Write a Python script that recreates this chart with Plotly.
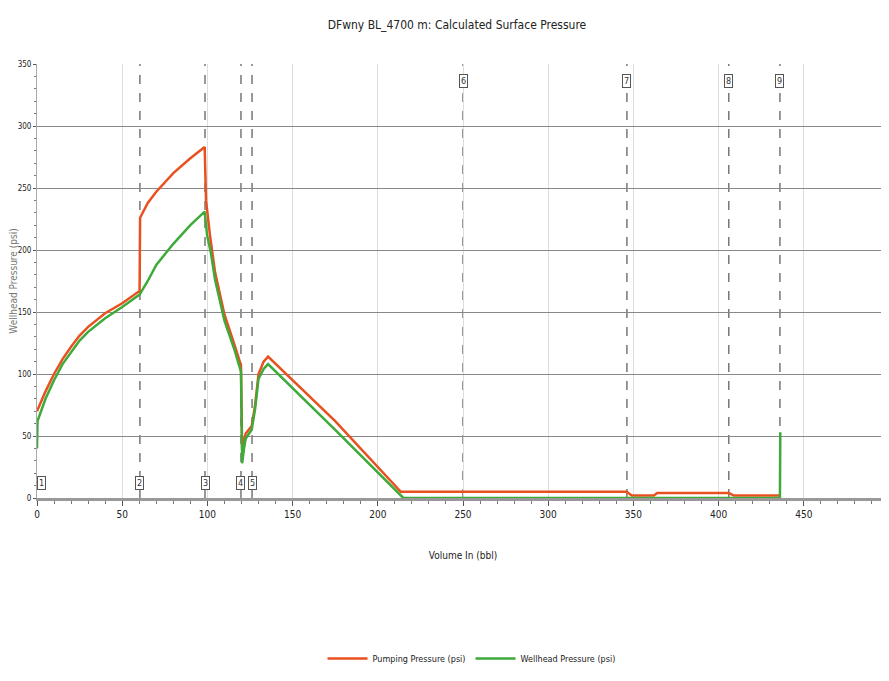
import plotly.graph_objects as go

# ---- data ----
pump_x = [0, 5, 10, 15, 20, 25, 30, 40, 50, 60.2, 60.5, 65, 70, 80, 90, 98.4,
          99.2, 101.5, 104.5, 110, 116, 119.7, 120.4, 121.5, 122.5, 126, 128, 130, 133, 135.6,
          175, 213.5, 346, 349, 362, 364, 406, 409, 436]
pump_y = [70, 86, 100, 112, 122, 131, 138, 149, 157, 167, 226, 238, 247, 262, 274, 283,
          240, 212, 182, 148, 123, 107, 40, 46, 52, 58, 75, 100, 110, 114,
          62, 5, 5, 2, 2, 4, 4, 2, 2]

well_x = [0, 0.3, 5, 10, 15, 20, 25, 30, 40, 50, 60.2, 65, 70, 80, 90, 98.4,
          99.8, 102, 104.5, 110, 116, 119.7, 120.4, 121.5, 122.5, 126, 128, 130, 133, 135.6,
          175, 215, 436, 436.2]
well_y = [40, 62, 80, 95, 108, 118, 127, 134, 145, 154, 164, 175, 188, 205, 220, 231,
          212, 198, 176, 143, 119, 102, 28, 40, 48, 55, 72, 96, 104, 108,
          55, 0, 0, 53]

event_x = [0, 60.4, 98.6, 119.7, 126.2, 250, 346.2, 406, 436]
event_labels = ["1", "2", "3", "4", "5", "6", "7", "8", "9"]
event_pos = ["bottom", "bottom", "bottom", "bottom", "bottom", "top", "top", "top", "top"]

x_ticks = [0, 50, 100, 150, 200, 250, 300, 350, 400, 450, 500]
y_ticks = [0, 50, 100, 150, 200, 250, 300, 350]

title_text = "DFwny BL_4700 m: Calculated Surface Pressure"
x_title = "Volume In (bbl)"
y_title = "Wellhead Pressure (psi)"
series_names = ["Pumping Pressure (psi)", "Wellhead Pressure (psi)"]

FONT = "Liberation Sans Narrow, DejaVu Sans Condensed, Arial Narrow, Liberation Sans, sans-serif"

fig = go.Figure()
fig.add_trace(go.Scatter(x=pump_x, y=pump_y, mode="lines", name=series_names[0],
                         line=dict(color="#E8511F", width=2.5)))
fig.add_trace(go.Scatter(x=well_x, y=well_y, mode="lines", name=series_names[1],
                         line=dict(color="#3DAA3A", width=2.5)))

shapes = []
annotations = []
for ex, lab, pos in zip(event_x, event_labels, event_pos):
    if ex > 0:
        shapes.append(dict(type="line", xref="x", yref="paper", x0=ex, x1=ex, y0=0, y1=1,
                           line=dict(color="#555555", width=1.2, dash="dash"), layer="below"))
    annotations.append(dict(x=ex, y=0.035 if pos == "bottom" else 0.96, xref="x", yref="paper",
                            xshift=4 if ex == 0 else 0,
                            text=lab, showarrow=False, font=dict(size=9, family=FONT, color="#333"),
                            bgcolor="white", bordercolor="#555", borderwidth=1, borderpad=1,
                            xanchor="center", yanchor="middle"))

# the page body has an 8px margin, compensate so the plot lands where the reference has it
fig.update_layout(
    width=889, height=681,
    paper_bgcolor="white", plot_bgcolor="white",
    margin=dict(l=29, r=8, t=56, b=191, autoexpand=False),
    title=dict(text=title_text, x=0.505, xanchor="center", y=0.975, yanchor="middle",
               font=dict(size=12, family=FONT, color="#222")),
    font=dict(family=FONT, size=10, color="#222"),
    showlegend=True,
    legend=dict(orientation="h", x=0.51, xanchor="center", y=-0.37, yanchor="middle",
                font=dict(size=9, family=FONT), itemwidth=40),
    shapes=shapes,
    annotations=annotations,
)
fig.update_xaxes(range=[0, 500], tickvals=x_ticks, ticktext=[str(v) for v in x_ticks],
                 automargin=False,
                 showgrid=True, gridcolor="#DDDDDD", gridwidth=1,
                 showline=True, linecolor="#999999", linewidth=3,
                 ticks="outside", ticklen=5, tickcolor="#555",
                 minor=dict(dtick=10, ticks="outside", ticklen=3, tickcolor="#777", showgrid=False),
                 zeroline=False, tickfont=dict(size=10),
                 title=dict(text=x_title, font=dict(size=10), standoff=33))
fig.update_yaxes(range=[0, 350], tickvals=y_ticks, ticktext=[str(v) for v in y_ticks],
                 automargin=False,
                 showgrid=True, gridcolor="#888888", gridwidth=1,
                 showline=True, linecolor="#AAAAAA", linewidth=1,
                 ticks="outside", ticklen=3, tickcolor="#555",
                 minor=dict(dtick=10, ticks="outside", ticklen=2, tickcolor="#777", showgrid=False),
                 zeroline=False, tickfont=dict(size=8),
                 title=dict(text=y_title, font=dict(size=10, color="#777"), standoff=1))

fig.write_html("out.html")
